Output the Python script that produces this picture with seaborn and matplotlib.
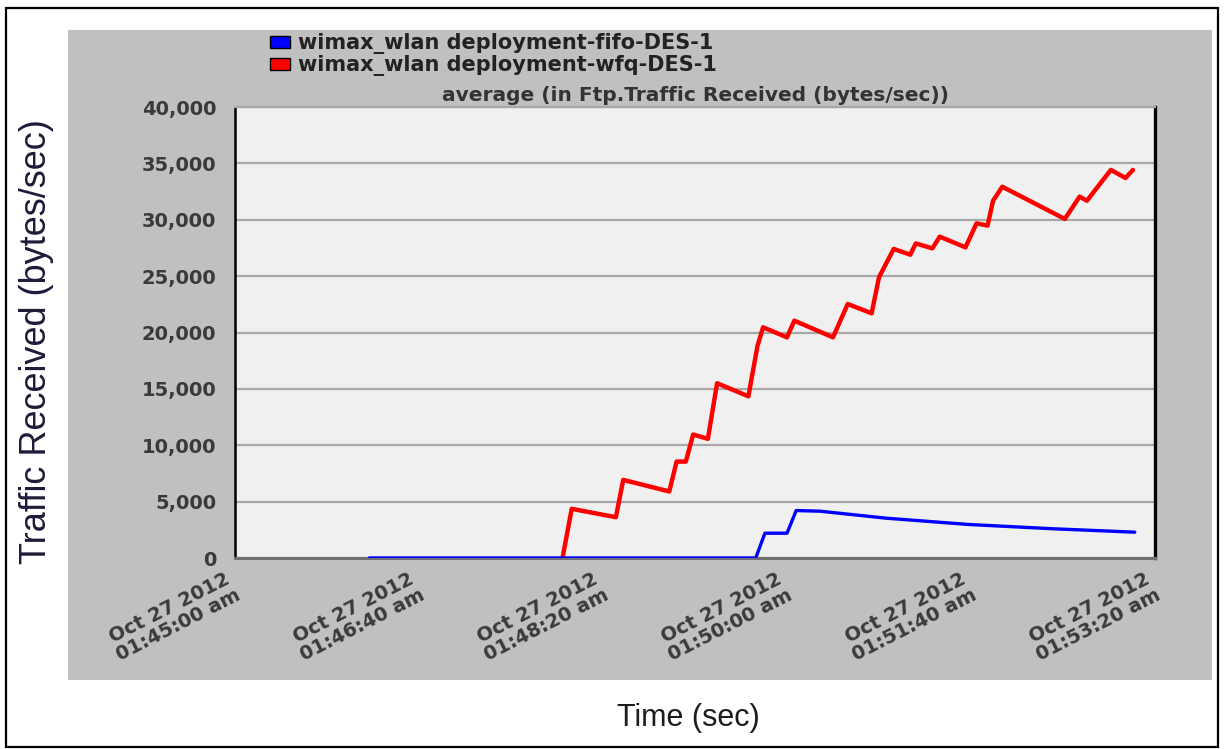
import numpy as np
import pandas as pd
import matplotlib
matplotlib.use("Agg")
import matplotlib.pyplot as plt
from matplotlib.patches import Rectangle, Patch
import seaborn as sns

# ---- data (seconds after 01:45:00, bytes/sec) ----
fifo_t = [73, 283, 288, 300, 305, 318, 354, 399, 445, 489]
fifo_v = [0, 0, 2200, 2200, 4210, 4150, 3530, 2970, 2590, 2290]

wfq_t = [178, 183, 207, 211, 236, 240, 245, 249, 257, 262, 279, 284, 287, 300, 304,
         325, 333, 346, 350, 358, 367, 370, 379, 383, 397, 403, 409, 412, 417, 451,
         459, 463, 476, 484, 488]
wfq_v = [0, 4360, 3620, 6930, 5900, 8550, 8550, 10950, 10570, 15500, 14340, 18840,
         20460, 19570, 21050, 19570, 22530, 21700, 24900, 27410, 26900, 27900, 27460,
         28500, 27550, 29680, 29480, 31690, 32930, 30070, 32050, 31690, 34420, 33700,
         34420]

series_names = ["wimax_wlan deployment-fifo-DES-1", "wimax_wlan deployment-wfq-DES-1"]
series_colors = ["#0000ff", "#ff0000"]

xtick_pos = [0, 100, 200, 300, 400, 500]
xtick_labels = ["Oct 27 2012\n01:45:00 am", "Oct 27 2012\n01:46:40 am",
                "Oct 27 2012\n01:48:20 am", "Oct 27 2012\n01:50:00 am",
                "Oct 27 2012\n01:51:40 am", "Oct 27 2012\n01:53:20 am"]
ytick_pos = [0, 5000, 10000, 15000, 20000, 25000, 30000, 35000, 40000]

title = "average (in Ftp.Traffic Received (bytes/sec))"
ylabel = "Traffic Received (bytes/sec)"
xlabel = "Time (sec)"

df = pd.concat([
    pd.DataFrame({"t": fifo_t, "v": fifo_v, "series": series_names[0]}),
    pd.DataFrame({"t": wfq_t, "v": wfq_v, "series": series_names[1]}),
], ignore_index=True)

sns.set_theme(style="white")
plt.rcParams["font.family"] = ["DejaVu Sans"]

W, H = 1224, 749
fig = plt.figure(figsize=(W / 100, H / 100), dpi=100)
fig.patch.set_facecolor("white")

def fx(px):
    return px / W

def fy(py):
    return 1 - py / H

# outer border
fig.patches.append(Rectangle((fx(6), fy(747)), fx(1218) - fx(6), fy(8) - fy(747),
                             transform=fig.transFigure, fill=False,
                             edgecolor="black", linewidth=1.6, zorder=-2))
# gray panel
fig.patches.append(Rectangle((fx(68), fy(680)), fx(1212) - fx(68), fy(30) - fy(680),
                             transform=fig.transFigure, facecolor="#c0c0c0",
                             edgecolor="none", zorder=-2))

ax = fig.add_axes([fx(235), fy(558), fx(1155) - fx(235), fy(107) - fy(558)])
ax.set_zorder(2)
ax.set_facecolor("#f0f0f0")

sns.lineplot(data=df[df.series == series_names[1]], x="t", y="v", color=series_colors[1],
             linewidth=3.2, estimator=None, ax=ax, legend=False, zorder=3)
sns.lineplot(data=df[df.series == series_names[0]], x="t", y="v", color=series_colors[0],
             linewidth=2.4, estimator=None, ax=ax, legend=False, zorder=4)

ax.set_xlim(0, 500)
ax.set_ylim(0, 40000)
ax.set_yticks(ytick_pos)
ax.set_yticklabels([f"{v:,}" for v in ytick_pos], fontsize=14, fontweight="bold",
                   color="#3a3a3a")
ax.set_xticks(xtick_pos)
ax.set_xticklabels(xtick_labels, fontsize=14, fontweight="bold", color="#3a3a3a",
                   rotation=27, ha="right", va="center", rotation_mode="anchor",
                   multialignment="center", linespacing=1.0)
ax.tick_params(axis="y", direction="out", length=9.5, width=1.4, color="#555555", pad=4)
ax.tick_params(axis="x", direction="out", length=5, width=1.6, color="#222222", pad=15)

ax.yaxis.grid(True, color="#a8a8a8", linewidth=1.6)
ax.xaxis.grid(False)
ax.set_axisbelow(True)

ax.spines["left"].set_color("black")
ax.spines["left"].set_linewidth(1.8)
ax.spines["right"].set_color("black")
ax.spines["right"].set_linewidth(2.4)
ax.spines["bottom"].set_color("#707070")
ax.spines["bottom"].set_linewidth(2.2)
ax.spines["top"].set_color("#a8a8a8")
ax.spines["top"].set_linewidth(1.6)

ax.set_xlabel("")
ax.set_ylabel("")
ax.set_title(title, fontsize=14.5, fontweight="bold", color="#333333", pad=4)

handles = [Patch(facecolor=c, edgecolor="black", linewidth=1.0) for c in series_colors]
ax.legend(handles, series_names, loc="upper left",
          bbox_to_anchor=(fx(270), fy(33)), bbox_transform=fig.transFigure,
          frameon=False, prop={"size": 15, "weight": "bold"}, handlelength=0.95,
          handleheight=0.5, handletextpad=0.4, labelspacing=0.05, borderpad=0,
          borderaxespad=0, labelcolor="#222222")

fig.text(fx(37), fy(342), ylabel, rotation=90, ha="center", va="center",
         fontsize=26, color="#1c1c3a", family=["Liberation Sans", "DejaVu Sans"])
fig.text(fx(688), fy(718), xlabel, ha="center", va="center",
         fontsize=22, color="#1c1c1c", family=["Liberation Sans", "DejaVu Sans"])

fig.savefig("out.png", dpi=100, facecolor="white")
